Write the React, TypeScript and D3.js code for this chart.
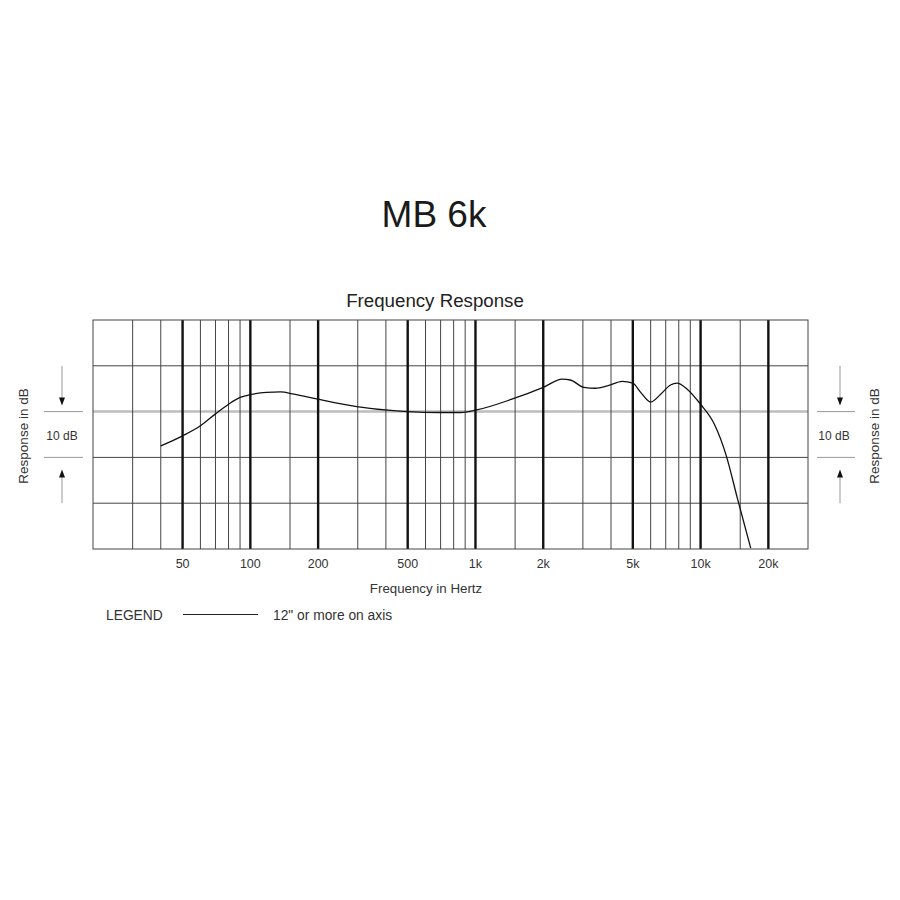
import React, { useEffect, useRef } from 'react';
import * as d3 from 'd3';

// response curve (Hz, dB relative to the 0 line)
const freqs = [40, 50, 60, 70, 80, 90, 100, 118, 136, 156, 200, 297, 432, 500, 700, 860, 1000, 1450, 2000, 2430, 2640, 3030, 3410, 3850, 4490, 5000, 5420, 6000, 6650, 7350, 7860, 8720, 10000, 11500, 13000, 14600, 16700];
const response = [-7.5, -5.3, -3.1, -0.5, 1.6, 3.1, 3.7, 4.2, 4.3, 3.8, 2.7, 1.1, 0.2, 0, -0.2, -0.2, 0.3, 2.7, 5.3, 7.1, 6.9, 5.3, 5.1, 5.6, 6.6, 6.2, 4.2, 2.1, 3.8, 5.8, 6.2, 4.9, 1.6, -2.7, -9.6, -19.1, -29.8];

const majorFreqs = [50, 100, 200, 500, 1000, 2000, 5000, 10000, 20000];
const majorLabels = ['50', '100', '200', '500', '1k', '2k', '5k', '10k', '20k'];
const minorFreqs = [30, 40, 60, 70, 80, 90, 150, 300, 400, 600, 700, 800, 900, 1500, 3000, 4000, 6000, 7000, 8000, 9000, 15000];
const dbLines = [10, -10, -20];

const FONT = '"Liberation Sans", Arial, Helvetica, sans-serif';

const App = () => {
    const svgRef = useRef(null);

    useEffect(() => {
        const svg = d3.select(svgRef.current);
        svg.selectAll('*').remove();

        const x = d3.scaleLog().domain([20, 30000]).range([93, 808]);
        const y = d3.scaleLinear().domain([-30, 20]).range([549, 320]);

        // titles
        svg.append('text')
            .attr('x', 434).attr('y', 227)
            .attr('text-anchor', 'middle')
            .attr('font-family', FONT).attr('font-size', 37)
            .attr('fill', '#1a1a1a')
            .text('MB 6k');

        svg.append('text')
            .attr('x', 435).attr('y', 307)
            .attr('text-anchor', 'middle')
            .attr('font-family', FONT).attr('font-size', 18.7)
            .attr('fill', '#222')
            .text('Frequency Response');

        const grid = svg.append('g');

        // horizontal lines
        grid.selectAll('line.h')
            .data(dbLines)
            .enter().append('line')
            .attr('x1', x(20)).attr('x2', x(30000))
            .attr('y1', d => y(d)).attr('y2', d => y(d))
            .attr('stroke', '#444').attr('stroke-width', 1);

        // 0 dB reference line
        grid.append('line')
            .attr('x1', x(20)).attr('x2', x(30000))
            .attr('y1', y(0)).attr('y2', y(0))
            .attr('stroke', '#bdbdbd').attr('stroke-width', 2.5);

        grid.selectAll('line.minor')
            .data(minorFreqs)
            .enter().append('line')
            .attr('x1', d => x(d)).attr('x2', d => x(d))
            .attr('y1', y(20)).attr('y2', y(-30))
            .attr('stroke', '#444').attr('stroke-width', 1);

        grid.selectAll('line.major')
            .data(majorFreqs)
            .enter().append('line')
            .attr('x1', d => x(d)).attr('x2', d => x(d))
            .attr('y1', y(20)).attr('y2', y(-30))
            .attr('stroke', '#111').attr('stroke-width', 2.4);

        // frame
        grid.append('rect')
            .attr('x', x(20)).attr('y', y(20))
            .attr('width', x(30000) - x(20)).attr('height', y(-30) - y(20))
            .attr('fill', 'none').attr('stroke', '#444').attr('stroke-width', 1);

        // curve
        const line = d3.line<number>()
            .x((d, i) => x(freqs[i]))
            .y(d => y(d))
            .curve(d3.curveMonotoneX);

        svg.append('path')
            .datum(response)
            .attr('fill', 'none')
            .attr('stroke', '#111')
            .attr('stroke-width', 1.3)
            .attr('d', line);

        // frequency labels
        svg.selectAll('text.tick')
            .data(majorFreqs)
            .enter().append('text')
            .attr('x', d => x(d)).attr('y', 568)
            .attr('text-anchor', 'middle')
            .attr('font-family', FONT).attr('font-size', 12.5)
            .attr('fill', '#333')
            .text((d, i) => majorLabels[i]);

        svg.append('text')
            .attr('x', 426).attr('y', 593)
            .attr('text-anchor', 'middle')
            .attr('font-family', FONT).attr('font-size', 13.3)
            .attr('fill', '#333')
            .text('Frequency in Hertz');

        // legend
        svg.append('text')
            .attr('x', 106).attr('y', 620)
            .attr('font-family', FONT).attr('font-size', 13.8)
            .attr('fill', '#333')
            .text('LEGEND');
        svg.append('line')
            .attr('x1', 183).attr('x2', 258)
            .attr('y1', 614.5).attr('y2', 614.5)
            .attr('stroke', '#222').attr('stroke-width', 1);
        svg.append('text')
            .attr('x', 273).attr('y', 620)
            .attr('font-family', FONT).attr('font-size', 13.8)
            .attr('fill', '#333')
            .text('12" or more on axis');

        // 10 dB scale markers both sides
        const marker = (cx: number, tx: number, x1: number, x2: number, lx: number) => {
            const g = svg.append('g');
            g.append('line').attr('x1', x1).attr('x2', x2).attr('y1', y(0)).attr('y2', y(0))
                .attr('stroke', '#999').attr('stroke-width', 1);
            g.append('line').attr('x1', x1).attr('x2', x2).attr('y1', y(-10)).attr('y2', y(-10))
                .attr('stroke', '#999').attr('stroke-width', 1);
            g.append('line').attr('x1', cx).attr('x2', cx).attr('y1', y(10)).attr('y2', y(0) - 8)
                .attr('stroke', '#999').attr('stroke-width', 1);
            g.append('path')
                .attr('d', `M${cx - 3},${y(0) - 14} L${cx + 3},${y(0) - 14} L${cx},${y(0) - 6} Z`)
                .attr('fill', '#111');
            g.append('line').attr('x1', cx).attr('x2', cx).attr('y1', y(-10) + 20).attr('y2', y(-20))
                .attr('stroke', '#999').attr('stroke-width', 1);
            g.append('path')
                .attr('d', `M${cx - 3},${y(-10) + 20} L${cx + 3},${y(-10) + 20} L${cx},${y(-10) + 12} Z`)
                .attr('fill', '#111');
            g.append('text')
                .attr('x', tx).attr('y', 440)
                .attr('text-anchor', 'middle')
                .attr('font-family', FONT).attr('font-size', 12)
                .attr('fill', '#333')
                .text('10 dB');
            g.append('text')
                .attr('transform', `translate(${lx},436) rotate(-90)`)
                .attr('text-anchor', 'middle')
                .attr('font-family', FONT).attr('font-size', 13.5)
                .attr('fill', '#333')
                .text('Response in dB');
        };
        marker(62, 62, 44, 83, 28);
        marker(840, 834, 817, 855, 879);
    }, []);

    return (
        <svg ref={svgRef} width={900} height={900}
            style={{ position: 'absolute', left: 0, top: 0, background: '#fff' }} />
    );
};

export default App;
